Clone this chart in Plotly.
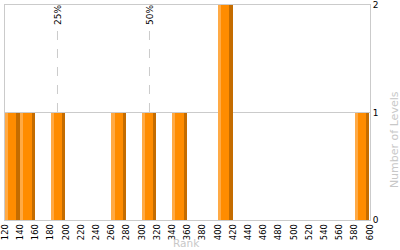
import plotly.graph_objects as go

# Data
bin_starts = [120, 140, 180, 260, 300, 340, 400, 580]
level_counts = [1, 1, 1, 1, 1, 1, 2, 1]
bin_size = 20
percentile_ranks = [189, 310]
percentile_labels = ["25%", "50%"]
x_ticks = list(range(120, 601, 20))
x_title = "Rank"
y_title = "Number of Levels"

MAIN = "#FF8C00"
LIGHT = "#FFAA45"
DARK = "#C46C00"
GRID = "#CBCBCB"
TITLE_C = "#C8C8C8"

fig = go.Figure()

bar_w = 19.2
edge_w = 4.2
fig.add_trace(go.Bar(x=bin_starts, y=level_counts, width=[bar_w] * len(bin_starts),
                     offset=0, marker=dict(color=MAIN, line=dict(width=0)),
                     hoverinfo="skip", showlegend=False))
fig.add_trace(go.Bar(x=bin_starts, y=level_counts, width=[edge_w] * len(bin_starts),
                     offset=0, marker=dict(color=LIGHT, line=dict(width=0)),
                     hoverinfo="skip", showlegend=False))
fig.add_trace(go.Bar(x=bin_starts, y=level_counts, width=[edge_w] * len(bin_starts),
                     offset=bar_w - edge_w, marker=dict(color=DARK, line=dict(width=0)),
                     hoverinfo="skip", showlegend=False))

shapes = []
annotations = []
for xr, lab in zip(percentile_ranks, percentile_labels):
    shapes.append(dict(type="line", xref="x", yref="y", x0=xr, x1=xr, y0=0, y1=1.8,
                       line=dict(color=GRID, width=1, dash="dash"), layer="below"))
    annotations.append(dict(x=xr, y=1.8, xref="x", yref="y", text=lab, showarrow=False,
                            textangle=-90, xanchor="center", yanchor="bottom",
                            font=dict(size=9, color="#000000", family="DejaVu Sans")))

annotations.append(dict(x=0.496, y=(220 - 250) / 215, xref="paper", yref="paper", text=x_title,
                        showarrow=False, xanchor="center", yanchor="bottom", borderpad=0,
                        font=dict(size=10.5, color=TITLE_C, family="DejaVu Sans")))
annotations.append(dict(x=1.066, y=0.372, xref="paper", yref="paper", text=y_title,
                        showarrow=False, textangle=-90, xanchor="center", yanchor="middle",
                        font=dict(size=11, color=TITLE_C, family="DejaVu Sans")))

fig.update_layout(
    width=400, height=250,
    margin=dict(l=5, r=30, t=5, b=30),
    paper_bgcolor="white", plot_bgcolor="white",
    barmode="overlay", bargap=0,
    font=dict(family="DejaVu Sans", size=9, color="#000000"),
    shapes=shapes, annotations=annotations,
    xaxis=dict(range=[120, 600], tickvals=x_ticks, ticktext=[str(v) for v in x_ticks],
               tickangle=-90, showgrid=False, zeroline=False, automargin=False,
               ticklabeloverflow="allow",
               showline=True, mirror=True, linecolor=GRID, linewidth=1,
               ticks="", tickfont=dict(size=8.3, color="#000000")),
    yaxis=dict(range=[0, 2], dtick=1, side="right", showgrid=True, gridcolor=GRID,
               zeroline=False, showline=True, mirror=True, linecolor=GRID, linewidth=1,
               automargin=False, ticklabeloverflow="allow",
               ticks="", tickfont=dict(size=9, color="#000000")),
)

fig.write_html("out.html")
